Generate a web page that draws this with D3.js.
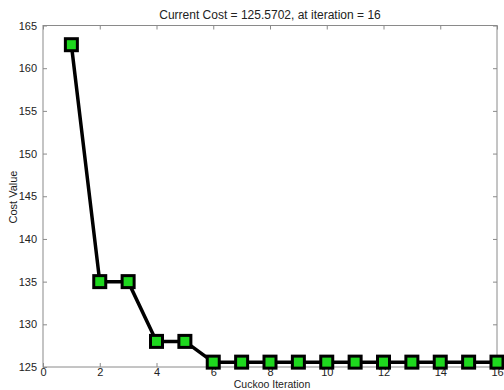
<!DOCTYPE html>
<html lang="en">
<head>
<meta charset="UTF-8">
<title>Cuckoo Cost</title>
<script src="https://d3js.org/d3.v7.min.js"></script>
<style>
  body { margin: 0; background: #fff; overflow: hidden; }
  text { font-family: "Liberation Sans", Arial, sans-serif; fill: #222; }
</style>
</head>
<body>
<script>
// data
var iterations = [1, 2, 3, 4, 5, 6, 7, 8, 9, 10, 11, 12, 13, 14, 15, 16];
var costValues = [162.75, 135, 135, 128, 128, 125.57, 125.57, 125.57, 125.57, 125.57,
                  125.57, 125.57, 125.57, 125.57, 125.57, 125.57];
var xTicks = [0, 2, 4, 6, 8, 10, 12, 14, 16];
var yTicks = [125, 130, 135, 140, 145, 150, 155, 160, 165];
var titleText = "Current Cost = 125.5702, at iteration = 16";
var xLabel = "Cuckoo Iteration";
var yLabel = "Cost Value";

var W = 504, H = 390;
var margin = {top: 25.5, right: 7, bottom: 23, left: 43};
var width = W - margin.left - margin.right;
var height = H - margin.top - margin.bottom;

var x = d3.scaleLinear().domain([0, 16]).range([0, width]);
var y = d3.scaleLinear().domain([125, 165]).range([height, 0]);

var svg = d3.select("body").append("svg")
    .attr("width", W)
    .attr("height", H)
    .style("display", "block");

var g = svg.append("g")
    .attr("transform", "translate(" + margin.left + "," + margin.top + ")");

// box
g.append("rect")
    .attr("width", width)
    .attr("height", height)
    .attr("fill", "none")
    .attr("stroke", "#8a8a8a")
    .attr("stroke-width", 1);

function styleAxis(sel) {
    sel.select(".domain").remove();
    sel.selectAll(".tick line").attr("stroke", "#8a8a8a");
    sel.selectAll(".tick text")
        .style("font-size", "11px")
        .attr("fill", "#222");
}

// bottom / top (inward ticks)
g.append("g")
    .attr("transform", "translate(0," + height + ")")
    .call(d3.axisBottom(x).tickValues(xTicks).tickSize(-4).tickPadding(1))
    .call(styleAxis);
g.append("g")
    .call(d3.axisTop(x).tickValues(xTicks).tickSize(-4).tickFormat(""))
    .call(styleAxis);

// left / right
g.append("g")
    .call(d3.axisLeft(y).tickValues(yTicks).tickSize(-4).tickPadding(6))
    .call(styleAxis);
g.append("g")
    .attr("transform", "translate(" + width + ",0)")
    .call(d3.axisRight(y).tickValues(yTicks).tickSize(-4).tickFormat(""))
    .call(styleAxis);

var pts = iterations.map(function(d, i) { return {it: d, v: costValues[i]}; });

var line = d3.line()
    .x(function(d) { return x(d.it); })
    .y(function(d) { return y(d.v); });

g.append("path")
    .datum(pts)
    .attr("d", line)
    .attr("fill", "none")
    .attr("stroke", "#000")
    .attr("stroke-width", 3.5)
    .attr("stroke-linejoin", "round");

var ms = 12;
g.selectAll(".marker")
    .data(pts)
    .enter()
    .append("rect")
    .classed("marker", true)
    .attr("x", function(d) { return x(d.it) - ms / 2; })
    .attr("y", function(d) { return y(d.v) - ms / 2; })
    .attr("width", ms)
    .attr("height", ms)
    .attr("fill", "#1ed81e")
    .attr("stroke", "#000")
    .attr("stroke-width", 3);

// title and labels
svg.append("text")
    .attr("x", 270)
    .attr("y", 19)
    .attr("text-anchor", "middle")
    .style("font-size", "12px")
    .text(titleText);

svg.append("text")
    .attr("x", 272)
    .attr("y", 388)
    .attr("text-anchor", "middle")
    .style("font-size", "10.5px")
    .text(xLabel);

svg.append("text")
    .attr("transform", "translate(17," + 197 + ") rotate(-90)")
    .attr("text-anchor", "middle")
    .style("font-size", "11px")
    .text(yLabel);
</script>
</body>
</html>
